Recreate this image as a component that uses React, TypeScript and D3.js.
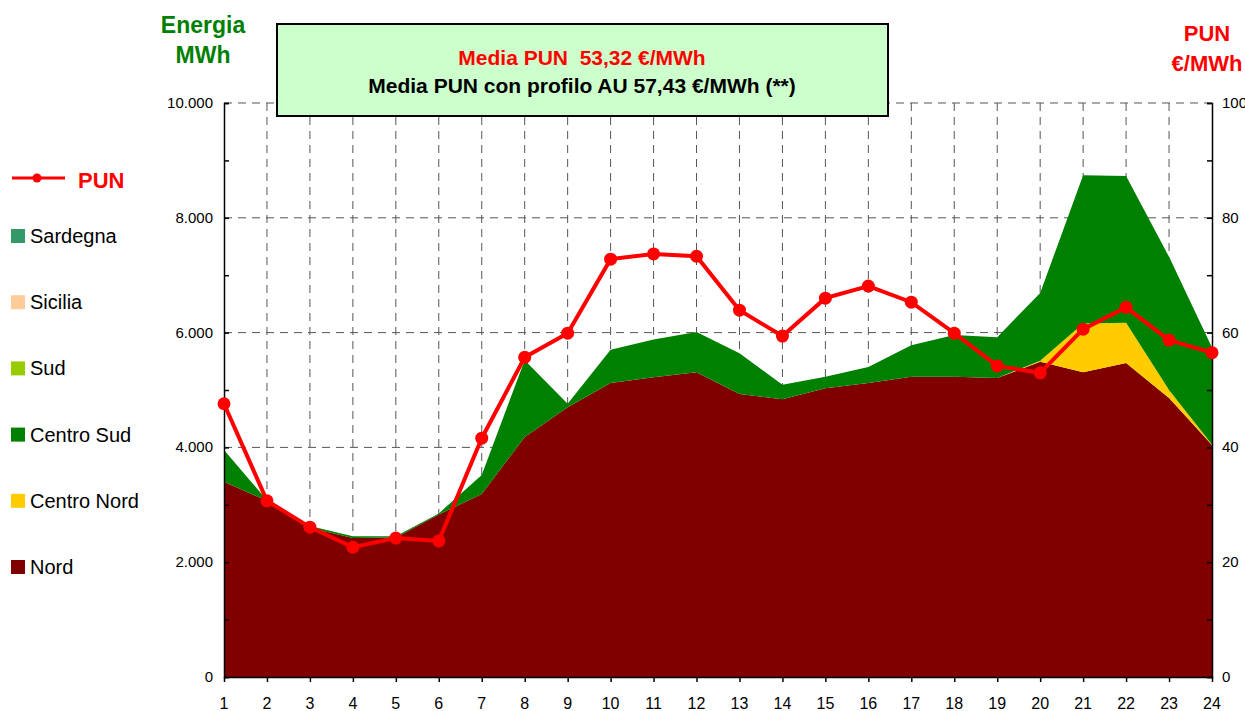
import React, { useEffect, useRef } from 'react';
import * as d3 from 'd3';

const W = 1245;
const H = 711;
const margin = { left: 224, right: 33, top: 103, bottom: 34 };

const hours = ['1', '2', '3', '4', '5', '6', '7', '8', '9', '10', '11', '12', '13', '14', '15', '16', '17', '18', '19', '20', '21', '22', '23', '24'];

// MWh per zone
const nord = [3400, 3070, 2600, 2420, 2430, 2830, 3190, 4180, 4700, 5120, 5220, 5310, 4930, 4840, 5030, 5120, 5230, 5230, 5210, 5490, 5310, 5470, 4860, 4040];
const centroNord = [0, 0, 0, 0, 0, 0, 0, 0, 0, 0, 0, 0, 0, 0, 0, 0, 0, 0, 0, 20, 850, 700, 140, 10];
const centroSud = [555, 10, 30, 30, 20, 20, 330, 1340, 60, 580, 660, 700, 710, 250, 200, 280, 550, 730, 710, 1180, 2580, 2560, 2320, 1690];
const sud = [0, 0, 0, 0, 0, 0, 0, 0, 0, 0, 0, 0, 0, 0, 0, 0, 0, 0, 0, 0, 0, 0, 0, 0];
const sicilia = [0, 0, 0, 0, 0, 0, 0, 0, 0, 0, 0, 0, 0, 0, 0, 0, 0, 0, 0, 0, 0, 0, 0, 0];
const sardegna = [0, 0, 0, 0, 0, 0, 0, 0, 0, 0, 0, 0, 0, 0, 0, 0, 0, 0, 0, 0, 0, 0, 0, 0];

// PUN €/MWh
const pun = [47.6, 30.7, 26.1, 22.6, 24.2, 23.7, 41.6, 55.7, 59.9, 72.8, 73.7, 73.3, 63.9, 59.4, 66.0, 68.1, 65.3, 59.9, 54.2, 53.0, 60.6, 64.4, 58.7, 56.5];

const zones = ['Nord', 'Centro Nord', 'Centro Sud', 'Sud', 'Sicilia', 'Sardegna'];
const zoneValues = [nord, centroNord, centroSud, sud, sicilia, sardegna];
const zoneColors = ['#800000', '#FFCC00', '#008000', '#99CC00', '#FFCC99', '#339966'];

const leftTicks = [0, 2000, 4000, 6000, 8000, 10000];
const rightTicks = [0, 20, 40, 60, 80, 100];

const font = 'Arial, "Liberation Sans", sans-serif';

export default function App() {
  const ref = useRef<SVGSVGElement>(null);

  useEffect(() => {
    const svg = d3.select(ref.current);
    svg.selectAll('*').remove();

    const x = d3.scalePoint().domain(hours).range([margin.left, W - margin.right]);
    const y = d3.scaleLinear().domain([0, 10000]).range([H - margin.bottom, margin.top]);
    const y2 = d3.scaleLinear().domain([0, 100]).range([H - margin.bottom, margin.top]);

    const rows = hours.map((h, i) => {
      const r: any = { hour: h };
      zones.forEach((z, j) => (r[z] = zoneValues[j][i]));
      return r;
    });
    const series = d3.stack().keys(zones)(rows);

    // grid
    const grid = svg.append('g');
    grid.selectAll('line.h')
      .data(leftTicks.filter(d => d > 0))
      .enter().append('line')
      .attr('x1', margin.left).attr('x2', W - margin.right)
      .attr('y1', d => y(d)).attr('y2', d => y(d))
      .attr('stroke', '#555').attr('stroke-dasharray', '8,6').attr('stroke-width', 1);
    grid.selectAll('line.v')
      .data(hours.slice(1, -1))
      .enter().append('line')
      .attr('x1', d => x(d)!).attr('x2', d => x(d)!)
      .attr('y1', margin.top).attr('y2', H - margin.bottom)
      .attr('stroke', '#555').attr('stroke-dasharray', '8,6').attr('stroke-width', 1);

    // stacked areas
    const area = d3.area<any>()
      .x(d => x(d.data.hour)!)
      .y0(d => y(d[0]))
      .y1(d => y(d[1]));
    svg.append('g').selectAll('path')
      .data(series)
      .enter().append('path')
      .attr('fill', (d, i) => zoneColors[i])
      .attr('d', d => area(d as any));

    // axes
    const yAxis = d3.axisRight(y).tickValues(d3.range(0, 10001, 1000)).tickSize(5).tickFormat(() => '');
    svg.append('g').attr('transform', `translate(${margin.left},0)`).call(yAxis)
      .call(g => g.selectAll('path,line').attr('stroke', '#000').attr('stroke-width', 1.5));
    const y2Axis = d3.axisLeft(y2).tickValues(d3.range(0, 101, 10)).tickSize(5).tickFormat(() => '');
    svg.append('g').attr('transform', `translate(${W - margin.right},0)`).call(y2Axis)
      .call(g => g.selectAll('path,line').attr('stroke', '#000').attr('stroke-width', 1.5));
    const xAxis = d3.axisBottom(x).tickSize(5).tickSizeOuter(0).tickFormat(() => '');
    svg.append('g').attr('transform', `translate(0,${H - margin.bottom})`).call(xAxis)
      .call(g => g.selectAll('path,line').attr('stroke', '#000').attr('stroke-width', 1.5));

    const fmt = d3.formatLocale({ decimal: ',', thousands: '.', grouping: [3], currency: ['', '€'] }).format(',d');
    svg.append('g').selectAll('text')
      .data(leftTicks)
      .enter().append('text')
      .attr('x', margin.left - 11).attr('y', d => y(d) + 5)
      .attr('text-anchor', 'end').attr('font-size', 15).attr('font-family', font)
      .text(d => fmt(d));
    svg.append('g').selectAll('text')
      .data(rightTicks)
      .enter().append('text')
      .attr('x', W - margin.right + 10).attr('y', d => y2(d) + 5)
      .attr('font-size', 15).attr('font-family', font)
      .text(d => d);
    svg.append('g').selectAll('text')
      .data(hours)
      .enter().append('text')
      .attr('x', d => x(d)!).attr('y', H - 2)
      .attr('text-anchor', 'middle').attr('font-size', 16).attr('font-family', font)
      .text(d => d);

    // PUN line
    const line = d3.line<number>()
      .x((d, i) => x(hours[i])!)
      .y(d => y2(d));
    svg.append('path')
      .attr('d', line(pun))
      .attr('fill', 'none').attr('stroke', '#FF0000').attr('stroke-width', 4);
    svg.append('g').selectAll('circle')
      .data(pun)
      .enter().append('circle')
      .attr('cx', (d, i) => x(hours[i])!)
      .attr('cy', d => y2(d))
      .attr('r', 6.5)
      .attr('fill', '#FF0000');

    // titles
    svg.append('rect')
      .attr('x', 277).attr('y', 24).attr('width', 611).attr('height', 92)
      .attr('fill', '#CCFFCC').attr('stroke', '#000').attr('stroke-width', 2);
    svg.append('text').attr('x', 582).attr('y', 65).attr('text-anchor', 'middle')
      .attr('font-size', 21).attr('font-weight', 'bold').attr('font-family', font).attr('fill', '#FF0000')
      .attr('xml:space', 'preserve')
      .text('Media PUN  53,32 €/MWh');
    svg.append('text').attr('x', 582).attr('y', 93).attr('text-anchor', 'middle')
      .attr('font-size', 21).attr('font-weight', 'bold').attr('font-family', font).attr('fill', '#000')
      .text('Media PUN con profilo AU 57,43 €/MWh (**)');

    const leftTitle = svg.append('text').attr('text-anchor', 'middle')
      .attr('font-size', 23).attr('font-weight', 'bold').attr('font-family', font).attr('fill', '#008000');
    leftTitle.append('tspan').attr('x', 203).attr('y', 33).text('Energia');
    leftTitle.append('tspan').attr('x', 203).attr('y', 63).text('MWh');

    const rightTitle = svg.append('text').attr('text-anchor', 'middle')
      .attr('font-size', 22).attr('font-weight', 'bold').attr('font-family', font).attr('fill', '#FF0000');
    rightTitle.append('tspan').attr('x', 1207).attr('y', 41).text('PUN');
    rightTitle.append('tspan').attr('x', 1207).attr('y', 71).text('€/MWh');

    // legend
    const leg = svg.append('g');
    leg.append('line').attr('x1', 12).attr('x2', 65).attr('y1', 178).attr('y2', 178)
      .attr('stroke', '#FF0000').attr('stroke-width', 3);
    leg.append('circle').attr('cx', 37).attr('cy', 178).attr('r', 4.5).attr('fill', '#FF0000');
    leg.append('text').attr('x', 78).attr('y', 188)
      .attr('font-size', 22).attr('font-weight', 'bold').attr('font-family', font).attr('fill', '#FF0000')
      .text('PUN');

    const legOrder = [5, 4, 3, 2, 1, 0];
    const items = leg.selectAll('g.item')
      .data(legOrder)
      .enter().append('g')
      .attr('transform', (d, i) => `translate(11, ${236 + i * 66.2})`);
    items.append('rect').attr('x', 0).attr('y', -7).attr('width', 14).attr('height', 14)
      .attr('fill', d => zoneColors[d]);
    items.append('text').attr('x', 19).attr('y', 7)
      .attr('font-size', 20).attr('font-family', font).attr('fill', '#000')
      .text(d => zones[d]);
  }, []);

  return <svg width={W} height={H} ref={ref} style={{ position: 'absolute', left: 0, top: 0, background: '#fff' }} />;
}
